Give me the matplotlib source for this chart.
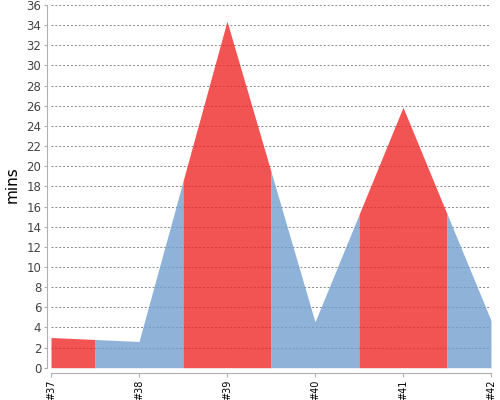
import matplotlib
matplotlib.use("Agg")
import matplotlib.pyplot as plt

builds = ["#37", "#38", "#39", "#40", "#41", "#42"]
durations = [3.0, 2.6, 34.4, 4.55, 25.85, 4.7]
status = ["failed", "success", "failed", "success", "failed", "success"]
y_ticks = list(range(0, 37, 2))

colors = {"failed": "#EF2929", "success": "#729FCF"}

fig = plt.figure(figsize=(5, 4), dpi=100)
ax = fig.add_axes([51 / 500, 32.3 / 400, 440 / 500, 362.7 / 400])

n = len(builds)
for i in range(n):
    xs, ys = [], []
    if i > 0:
        xs.append(i - 0.5)
        ys.append((durations[i - 1] + durations[i]) / 2)
    xs.append(i)
    ys.append(durations[i])
    if i < n - 1:
        xs.append(i + 0.5)
        ys.append((durations[i] + durations[i + 1]) / 2)
    ax.fill_between(xs, 0, ys, color=colors[status[i]], alpha=0.8,
                    linewidth=0, zorder=2)

ax.set_xlim(0, n - 1)
ax.set_ylim(0, 36)
ax.set_yticks(y_ticks)
ax.set_xticks(range(n))
ax.set_xticklabels(builds)
ax.tick_params(axis="y", labelsize=8.5, labelcolor="#444444", length=2,
               color="#b0b0b0", pad=2)
ax.tick_params(axis="x", length=3, color="#b0b0b0", pad=1.5,
               labelrotation=90, labelsize=7, labelcolor="black")
ax.yaxis.grid(True, linestyle=(0, (2, 2)), color="#888888", linewidth=0.7,
              zorder=1)
ax.set_axisbelow(True)

for s in ["top", "right"]:
    ax.spines[s].set_visible(False)
ax.spines["left"].set_position(("outward", 3))
ax.spines["bottom"].set_position(("outward", 4))
ax.spines["left"].set_color("#b0b0b0")
ax.spines["bottom"].set_color("#b0b0b0")

fig.text(12 / 500, 1 - 185 / 400, "mins", rotation=90, fontsize=11,
         ha="center", va="center", color="black")

fig.savefig("out.png", dpi=100)
